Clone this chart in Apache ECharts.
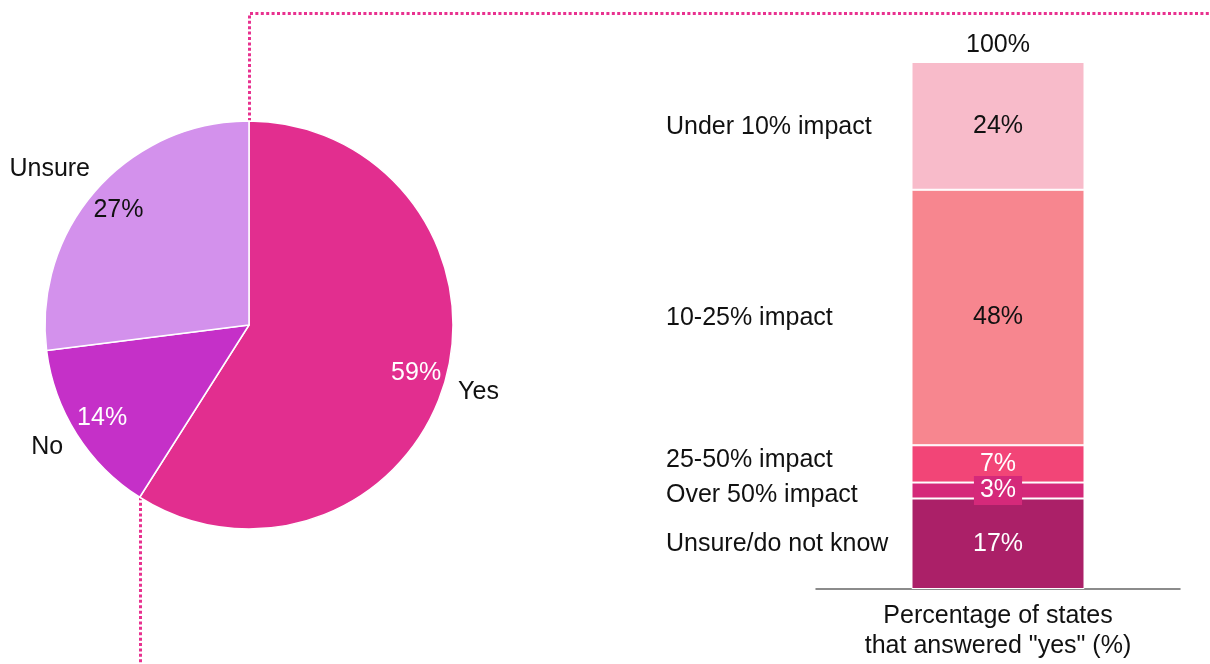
<!DOCTYPE html>
<html>
<head>
<meta charset="utf-8">
<script src="https://cdn.jsdelivr.net/npm/echarts@6/dist/echarts.min.js"></script>
<style>
  html, body { margin: 0; padding: 0; background: #fff; }
  #chart { width: 1210px; height: 664px; }
</style>
</head>
<body>
<div id="chart"></div>
<script>
// ---- data ----
const pieCategories = ['Yes', 'No', 'Unsure'];
const pieValues = [59, 14, 27];

const impactCategories = ['Unsure/do not know', 'Over 50% impact', '25-50% impact', '10-25% impact', 'Under 10% impact'];
const impactValues = [17, 3, 7, 48, 24];

const barCategories = ['Percentage of states\nthat answered "yes" (%)'];
const totalLabel = '100%';

// ---- styling / layout ----
const FONT = '"Liberation Sans", Arial, sans-serif';
const FS = 25;
const pieColors = ['#e22e8f', '#c530c8', '#d391ec'];
const pieValueColors = ['#ffffff', '#ffffff', '#111111'];
const pieNameOffsets = [[0, 0], [0, -6], [-20, 2]];
const impactColors = ['#ab2068', '#d5297a', '#f24577', '#f7868f', '#f8bbca'];
const impactValueColors = ['#ffffff', '#ffffff', '#ffffff', '#111111', '#111111'];
const impactNameOffsets = [0, 5, -4, 1, 1];
const PIE = { cx: 249, cy: 325, r: 204 };
const GRID = { left: 816, right: 30, top: 62, bottom: 75 };
const DOT_COLOR = '#e8318f';
const DOT_Y = 13.5;

const chart = echarts.init(document.getElementById('chart'), null, { renderer: 'canvas' });
const W = chart.getWidth(), H = chart.getHeight();

const impactTotal = impactValues.reduce((a, b) => a + b, 0);
const pieTotal = pieValues.reduce((a, b) => a + b, 0);

const noEmph = { disabled: true };

const pieMain = {
  type: 'pie', center: [PIE.cx, PIE.cy], radius: [0, PIE.r], startAngle: 90, clockwise: true,
  silent: true, emphasis: noEmph, z: 3,
  label: { show: false }, labelLine: { show: false },
  itemStyle: { borderColor: '#ffffff', borderWidth: 1.5 },
  data: pieCategories.map((n, i) => ({ name: n, value: pieValues[i], itemStyle: { color: pieColors[i] } }))
};

// transparent ring carrying the percentage labels inside the slices
const pieValueRing = {
  type: 'pie', center: [PIE.cx, PIE.cy], radius: [138, PIE.r], startAngle: 90, clockwise: true,
  silent: true, emphasis: noEmph, z: 4,
  labelLine: { show: false },
  itemStyle: { color: 'rgba(0,0,0,0)', borderWidth: 0 },
  data: pieCategories.map((n, i) => ({
    name: n, value: pieValues[i],
    label: { show: true, position: 'inside', formatter: '{c}%', color: pieValueColors[i], fontSize: FS, fontFamily: FONT }
  }))
};

// transparent ring carrying the category names just outside the pie
const pieNameRing = {
  type: 'pie', center: [PIE.cx, PIE.cy], radius: [PIE.r, 268], startAngle: 90, clockwise: true,
  silent: true, emphasis: noEmph, z: 4,
  labelLine: { show: false },
  itemStyle: { color: 'rgba(0,0,0,0)', borderWidth: 0 },
  data: pieCategories.map((n, i) => ({
    name: n, value: pieValues[i],
    label: { show: true, position: 'inside', formatter: '{b}', color: '#111111', fontSize: FS, fontFamily: FONT, offset: pieNameOffsets[i] }
  }))
};

const barSeries = impactCategories.map((name, i) => ({
  type: 'bar', name: name, stack: 'impact', barWidth: 173,
  silent: true, emphasis: noEmph,
  itemStyle: { color: impactColors[i], borderColor: '#ffffff', borderWidth: 1 },
  label: Object.assign({
    show: true, position: 'inside', formatter: '{c}%',
    color: impactValueColors[i], fontSize: FS, fontFamily: FONT
  }, i === 1 ? { backgroundColor: impactColors[i], padding: [2, 6] } : {}),
  data: [impactValues[i]]
}));

chart.setOption({
  animation: false,
  backgroundColor: '#ffffff',
  textStyle: { fontFamily: FONT },
  grid: GRID,
  xAxis: {
    type: 'category', data: barCategories,
    axisLine: { show: true, lineStyle: { color: '#666666', width: 1.5 } },
    axisTick: { show: false },
    axisLabel: { color: '#111111', fontSize: FS, fontFamily: FONT, lineHeight: 30, margin: 12 }
  },
  yAxis: { type: 'value', min: 0, max: impactTotal, show: false, splitLine: { show: false } },
  series: [pieMain, pieValueRing, pieNameRing].concat(barSeries)
});

// ---- annotations derived from the scales and the pie geometry ----
const graphics = [];

// segment names to the left of the stacked bar
let cum = 0;
const nameX = GRID.left - 150;
impactValues.forEach((v, i) => {
  const mid = chart.convertToPixel({ seriesIndex: 3 }, [0, cum + v / 2]);
  cum += v;
  graphics.push({
    type: 'text', z: 10, silent: true,
    style: { text: impactCategories[i], x: nameX, y: mid[1] + impactNameOffsets[i], fill: '#111111',
             font: FS + 'px ' + FONT, align: 'left', verticalAlign: 'middle' }
  });
});

// total label above the bar
const topPt = chart.convertToPixel({ seriesIndex: 3 }, [0, impactTotal]);
graphics.push({
  type: 'text', z: 10, silent: true,
  style: { text: totalLabel, x: topPt[0], y: topPt[1] - 17, fill: '#111111',
           font: FS + 'px ' + FONT, align: 'center', verticalAlign: 'middle' }
});

// dotted connectors: from the top of the pie to the right edge, and from the Yes/No boundary down
const dotStyle = { stroke: DOT_COLOR, lineWidth: 3, lineDash: [3, 2.4], fill: null };
const topX = Math.round(PIE.cx) + 0.5;
graphics.push({
  type: 'polyline', z: 1, silent: true,
  shape: { points: [[topX, PIE.cy - PIE.r], [topX, DOT_Y], [W, DOT_Y]] },
  style: dotStyle
});
const yesAngle = pieValues[0] / pieTotal * 2 * Math.PI;
const bx = PIE.cx + PIE.r * Math.sin(yesAngle);
const by = PIE.cy - PIE.r * Math.cos(yesAngle);
const lowX = Math.round(bx) + 0.5;
graphics.push({
  type: 'polyline', z: 1, silent: true,
  shape: { points: [[lowX, by], [lowX, H]] },
  style: dotStyle
});

chart.setOption({ graphic: graphics });
</script>
</body>
</html>
